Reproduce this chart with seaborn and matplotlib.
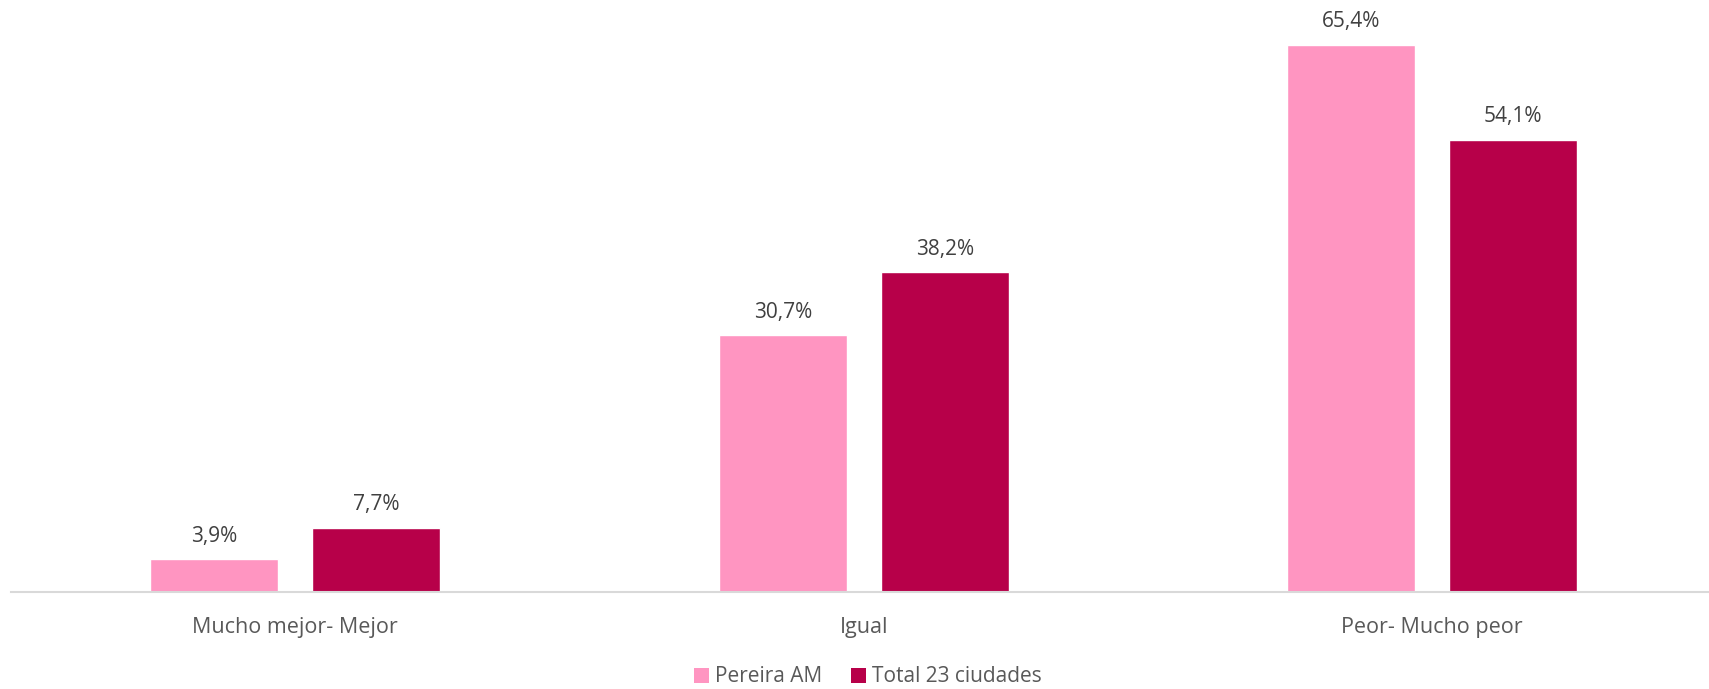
import matplotlib
matplotlib.use("Agg")
import matplotlib.pyplot as plt
import seaborn as sns
import pandas as pd
from matplotlib.patches import Patch

categories = ["Mucho mejor- Mejor", "Igual", "Peor- Mucho peor"]
series_names = ["Pereira AM", "Total 23 ciudades"]
pereira = [3.9, 30.7, 65.4]
total23 = [7.7, 38.2, 54.1]
colors = ["#FF95C1", "#B70049"]

df = pd.DataFrame({
    "cat": categories * 2,
    "serie": [series_names[0]] * 3 + [series_names[1]] * 3,
    "val": pereira + total23,
})

sns.set_theme(style="white")
plt.rcParams['font.family'] = ['Open Sans', 'DejaVu Sans']

W, H = 1709, 689
fig = plt.figure(figsize=(W / 100, H / 100), dpi=100)
ax_left = 11 / W
ax_bottom = 1 - 592 / H
ax = fig.add_axes([ax_left, ax_bottom, 1 - ax_left, 592 / H])

sns.barplot(data=df, x="cat", y="val", hue="serie", order=categories,
            hue_order=series_names, palette=colors, width=0.57, gap=0.21,
            saturation=1, ax=ax, legend=False, errorbar=None)

ax.set_xlim(-0.5, 2.487)
ax.set_ylim(0, 70.78)
for cont in ax.containers:
    ax.bar_label(cont, labels=[f"{v:.1f}".replace(".", ",") + "%" for v in cont.datavalues],
                 padding=9, fontsize=15, color="#404040")

for s in ["top", "left", "right"]:
    ax.spines[s].set_visible(False)
ax.spines["bottom"].set_color("#D9D9D9")
ax.spines["bottom"].set_linewidth(1.5)
ax.set_yticks([])
ax.set_xlabel("")
ax.set_ylabel("")
ax.tick_params(axis="x", length=0, pad=18, labelsize=15.5, labelcolor="#595959")

handles = [Patch(facecolor=c, edgecolor="none") for c in colors]
fig.legend(handles, series_names, loc="center", bbox_to_anchor=(868 / W, 1 - 677 / H),
           ncol=2, frameon=False, fontsize=15, labelcolor="#595959",
           handlelength=0.7, handleheight=0.7, handletextpad=0.3, columnspacing=1.4)

fig.savefig("out.png", dpi=100)
